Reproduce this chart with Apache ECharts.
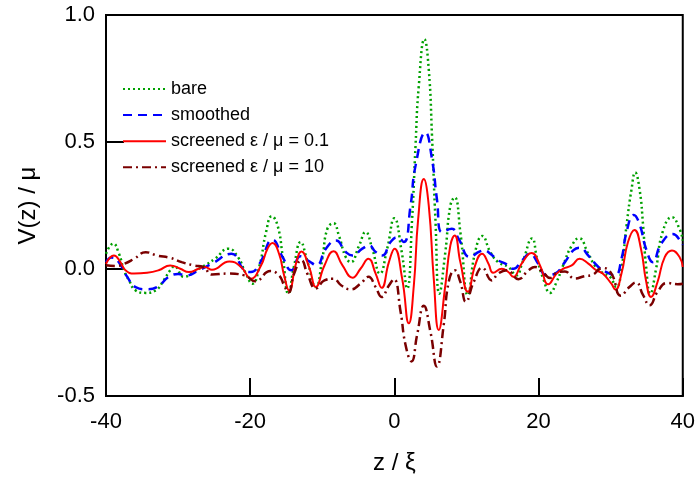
<!DOCTYPE html>
<html>
<head>
<meta charset="utf-8">
<script src="https://cdn.jsdelivr.net/npm/echarts@6/dist/echarts.min.js"></script>
<style>
html,body{margin:0;padding:0;background:#fff;}
#chart{width:698px;height:480px;}
</style>
</head>
<body>
<div id="chart"></div>
<script>
const xTicks = [-40, -20, 0, 20, 40];
const yTicks = [-0.5, 0.0, 0.5, 1.0];
const seriesNames = ['bare', 'smoothed', 'screened ε / μ = 0.1', 'screened ε / μ = 10'];

const bare = [
[-40,0.06],[-39.0,0.10],[-38.2,0.06],[-37.5,-0.005],[-36.8,-0.045],[-35.9,-0.084],[-34.5,-0.094],[-33.1,-0.084],[-32.0,-0.045],[-31.1,-0.005],[-30.5,0.01],[-29.2,-0.031],[-27.5,-0.005],[-26.3,0.014],[-24.9,0.04],[-23.0,0.08],[-21.7,0.047],[-20.6,-0.018],[-19.7,-0.058],[-18.7,0.014],[-17.8,0.145],[-17.0,0.208],[-16.2,0.171],[-15.5,0.053],[-14.7,-0.097],[-13.9,0.014],[-13.0,0.106],[-12.1,0.034],[-10.9,-0.071],[-10.0,0.04],[-9.3,0.158],[-8.45,0.18],[-7.7,0.132],[-6.75,0.047],[-6.05,0.027],[-4.9,0.092],[-4.0,0.145],[-3.07,0.08],[-2.0,-0.018],[-1.0,0.08],[0.0,0.2],[1.0,0.07],[1.77,-0.077],[2.46,0.197],[2.93,0.484],[3.38,0.719],[4.17,0.905],[4.77,0.785],[5.22,0.523],[5.69,0.197],[6.24,-0.097],[7.07,0.067],[7.76,0.249],[8.36,0.282],[9.15,0.145],[10.2,-0.103],[11.2,0.067],[12.2,0.13],[13.3,0.067],[14.4,0.027],[15.8,0.008],[16.9,-0.025],[17.8,0.03],[19.1,0.12],[19.8,0.04],[20.65,-0.038],[21.6,-0.094],[22.5,-0.051],[23.4,0.014],[24.6,0.092],[25.6,0.121],[26.9,0.06],[27.8,0.014],[28.7,-0.012],[29.9,-0.031],[30.8,-0.071],[31.5,0.001],[32.2,0.171],[32.9,0.315],[33.4,0.38],[34.0,0.315],[34.5,0.171],[34.9,0.014],[35.5,-0.097],[36.3,0.001],[37.2,0.145],[38.5,0.204],[39.55,0.158],[40,0.112]
];

const smoothed = [
[-40,0.027],[-39.2,0.045],[-38.3,0.03],[-37.05,-0.031],[-35.9,-0.071],[-34.3,-0.08],[-32.9,-0.071],[-31.3,-0.031],[-30.0,-0.02],[-28.8,-0.025],[-27.15,-0.005],[-25.3,0.021],[-22.6,0.06],[-20.8,-0.005],[-19.9,-0.012],[-18.7,0.021],[-16.9,0.115],[-15.5,0.047],[-14.3,-0.005],[-13.0,0.05],[-11.8,0.03],[-10.8,0.015],[-9.5,0.08],[-8.1,0.112],[-6.75,0.067],[-5.8,0.053],[-4.45,0.08],[-3.5,0.092],[-2.6,0.067],[-1.7,0.053],[-0.53,0.106],[0.39,0.125],[1.3,0.106],[2.24,0.249],[2.93,0.406],[4.3,0.537],[5.22,0.432],[5.9,0.275],[6.6,0.145],[7.98,0.158],[8.9,0.119],[10.5,0.047],[11.7,0.067],[12.5,0.073],[13.3,0.06],[14.4,0.034],[15.4,0.021],[16.5,0.001],[17.7,0.034],[18.8,0.06],[19.95,0.021],[21.1,-0.025],[22.3,-0.018],[23.65,0.027],[24.8,0.073],[25.7,0.084],[26.9,0.053],[28.3,0.008],[29.4,-0.012],[30.6,-0.025],[31.5,0.04],[32.2,0.145],[33.2,0.213],[34.0,0.177],[34.9,0.08],[35.85,0.027],[37.0,0.099],[38.6,0.138],[39.8,0.106],[40,0.095]
];

const screened01 = [
[-40,0.02],[-38.9,0.053],[-38.0,0.027],[-37.3,-0.005],[-36.1,-0.018],[-34.3,-0.015],[-32.7,-0.005],[-31.1,0.014],[-29.7,0.001],[-28.5,-0.012],[-27.15,0.001],[-26.3,0.008],[-25.3,-0.003],[-22.9,0.03],[-21.25,0.008],[-19.9,-0.038],[-18.5,0.014],[-17.6,0.08],[-16.9,0.102],[-16.0,0.06],[-15.3,-0.025],[-14.6,-0.085],[-13.65,0.021],[-12.9,0.069],[-11.8,0.005],[-10.9,-0.071],[-9.7,0.014],[-8.45,0.07],[-7.2,0.014],[-5.8,-0.034],[-4.7,0.001],[-3.6,0.04],[-2.6,-0.018],[-1.77,-0.074],[-0.76,0.027],[0.02,0.08],[1.08,-0.038],[2.0,-0.214],[2.7,-0.064],[3.3,0.197],[4.08,0.354],[4.77,0.249],[5.46,-0.038],[6.15,-0.24],[7.07,-0.064],[7.76,0.092],[8.36,0.132],[9.15,0.027],[10.2,-0.09],[11.2,0.014],[12.15,0.06],[13.05,0.021],[13.7,-0.015],[14.9,0.001],[15.8,-0.012],[16.5,-0.031],[17.65,0.021],[19.04,0.063],[20.2,0.014],[21.35,-0.06],[22.5,-0.018],[23.4,0.001],[24.6,0.014],[25.7,0.04],[26.9,0.021],[28.0,-0.005],[28.9,-0.018],[30.1,-0.058],[30.65,-0.081],[31.5,-0.018],[32.4,0.106],[33.3,0.154],[34.2,0.08],[34.9,-0.045],[35.6,-0.11],[36.5,-0.051],[37.5,0.047],[38.5,0.073],[39.55,0.047],[40,0.008]
];

const screened10 = [
[-40,0.015],[-38.5,0.012],[-37.5,0.02],[-36.1,0.04],[-34.5,0.066],[-32.9,0.053],[-31.1,0.044],[-29.5,0.027],[-27.8,0.014],[-26.5,0.008],[-25.3,-0.022],[-23.1,-0.018],[-20.8,-0.025],[-19.3,-0.048],[-17.2,-0.008],[-16.0,-0.025],[-15.3,-0.064],[-14.7,-0.093],[-13.9,-0.018],[-12.9,0.035],[-12.05,-0.02],[-10.9,-0.077],[-9.7,-0.045],[-8.45,-0.038],[-7.4,-0.064],[-6.05,-0.08],[-4.7,-0.058],[-3.6,-0.031],[-2.6,-0.071],[-1.77,-0.11],[-0.76,-0.065],[-0.07,-0.04],[0.86,-0.168],[1.55,-0.299],[2.38,-0.364],[3.15,-0.26],[4.08,-0.145],[5.0,-0.247],[5.9,-0.384],[6.84,-0.221],[7.53,-0.051],[8.36,-0.005],[9.15,-0.051],[9.92,-0.129],[11.0,-0.051],[12.2,0.005],[13.5,-0.045],[14.4,-0.018],[15.6,-0.005],[17.2,-0.04],[18.6,-0.005],[19.5,0.008],[20.65,-0.015],[21.6,-0.035],[22.5,-0.015],[23.65,-0.01],[25.0,-0.038],[26.4,-0.028],[27.3,-0.025],[28.9,0.004],[30.1,-0.018],[31.4,-0.105],[32.6,-0.071],[33.5,-0.053],[34.5,-0.103],[35.4,-0.143],[36.5,-0.09],[37.8,-0.055],[39.3,-0.06],[40,-0.058]
];

const FONT = '"Liberation Sans", Arial, Helvetica, sans-serif';
const chart = echarts.init(document.getElementById('chart'), null, {renderer: 'canvas'});

function mkSeries(name, data, color, type, width) {
  return {
    name: name, type: 'line', data: data, smooth: 0.5, symbol: 'none',
    lineStyle: {color: color, width: width, type: type},
    itemStyle: {color: color},
    animation: false
  };
}

chart.setOption({
  backgroundColor: '#fff',
  animation: false,
  textStyle: {fontFamily: FONT},
  grid: {left: 106, right: 13, top: 15, bottom: 82, show: true, borderColor: '#000', borderWidth: 2, containLabel: false},
  legend: {
    orient: 'vertical', left: 122, top: 80, padding: 0,
    itemWidth: 43, itemHeight: 14, itemGap: 8.1,
    itemStyle: {opacity: 0},
    textStyle: {fontSize: 18, color: '#000', fontFamily: FONT},
    data: seriesNames
  },
  xAxis: {
    type: 'value', min: xTicks[0], max: xTicks[xTicks.length - 1], interval: 20,
    axisLine: {show: true, onZero: false, lineStyle: {color: '#000', width: 2}},
    axisTick: {show: true, inside: true, length: 18, lineStyle: {color: '#000', width: 2}},
    axisLabel: {fontSize: 22, color: '#000', margin: 15, fontFamily: FONT},
    splitLine: {show: false},
    name: 'z / ξ', nameLocation: 'middle', nameGap: 55,
    nameTextStyle: {fontSize: 24, color: '#000', fontFamily: FONT}
  },
  yAxis: {
    type: 'value', min: yTicks[0], max: yTicks[yTicks.length - 1], interval: 0.5,
    axisLine: {show: true, onZero: false, lineStyle: {color: '#000', width: 2}},
    axisTick: {show: true, inside: true, length: 18, lineStyle: {color: '#000', width: 2}},
    axisLabel: {fontSize: 22, color: '#000', margin: 11, fontFamily: FONT, formatter: v => v.toFixed(1)},
    splitLine: {show: false},
    name: 'V(z) / μ', nameLocation: 'middle', nameGap: 66,
    nameTextStyle: {fontSize: 24, color: '#000', fontFamily: FONT}
  },
  series: [
    mkSeries(seriesNames[0], bare, '#00a000', [2, 3], 2.5),
    mkSeries(seriesNames[1], smoothed, '#0000ff', [9, 6], 2.5),
    mkSeries(seriesNames[2], screened01, '#ff0000', 'solid', 2),
    mkSeries(seriesNames[3], screened10, '#7a0000', [9, 4, 2, 4], 2.5)
  ]
});
</script>
</body>
</html>
